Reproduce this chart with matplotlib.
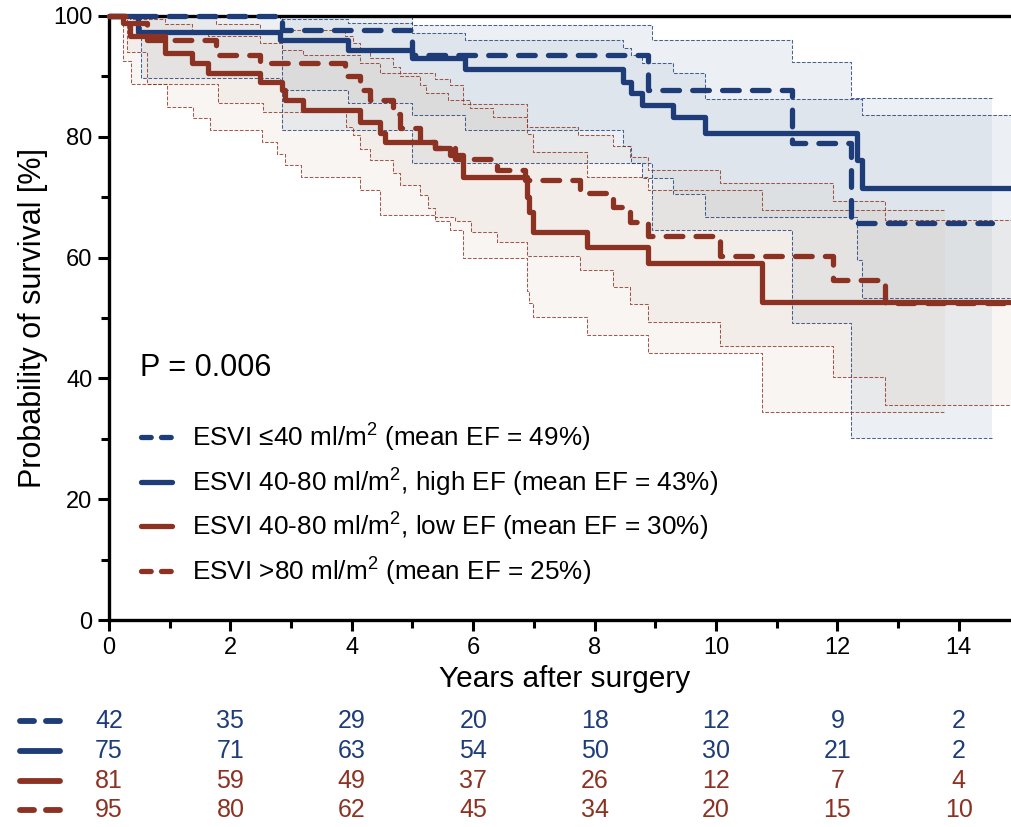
import numpy as np
import matplotlib
matplotlib.use('Agg')
import matplotlib.pyplot as plt

plt.rcParams['font.family'] = ['Liberation Sans', 'DejaVu Sans']
plt.rcParams['mathtext.fontset'] = 'custom'
plt.rcParams['mathtext.rm'] = 'Liberation Sans'

BLUE = '#1e3c78'
RED = '#8c3223'

labels = ['ESVI \u226440 ml/m$^2$ (mean EF = 49%)',
          'ESVI 40-80 ml/m$^2$, high EF (mean EF = 43%)',
          'ESVI 40-80 ml/m$^2$, low EF (mean EF = 30%)',
          'ESVI >80 ml/m$^2$ (mean EF = 25%)']

# Kaplan-Meier curves: step times (years) and survival (%), last entry = end of follow-up
t_le40 = [0, 2.85, 5.0, 8.88, 11.25, 12.22, 14.54]
s_le40 = [100, 97.6, 93.5, 87.7, 78.9, 65.7, 65.7]
t_high = [0, 0.48, 2.82, 3.94, 5.0, 5.86, 8.47, 8.6, 8.78, 9.29, 9.82, 12.32, 12.4, 14.86]
s_high = [100, 97.4, 96.1, 94.4, 93.0, 91.3, 89.1, 87.2, 85.3, 83.3, 80.6, 76.2, 71.5, 71.5]
t_low = [0, 0.23, 0.35, 0.92, 1.36, 1.63, 2.49, 2.85, 2.9, 3.2, 4.13, 4.46, 4.55, 5.37,
         5.62, 5.84, 6.88, 6.92, 6.99, 7.87, 8.88, 10.75, 14.86]
s_low = [100, 98.8, 96.6, 93.8, 92.2, 90.5, 89.1, 87.7, 86.1, 84.4, 82.5, 80.6, 79.2, 78.1,
         77.0, 73.4, 70.0, 67.5, 64.3, 61.8, 59.1, 52.7, 52.7]
t_gt80 = [0, 0.3, 0.62, 1.77, 2.49, 3.89, 4.13, 4.3, 4.68, 4.8, 5.12, 5.37, 5.7, 6.4,
          6.85, 7.76, 8.3, 8.58, 8.88, 10.07, 11.93, 12.78, 14.86]
s_gt80 = [100, 98.9, 96.0, 93.5, 92.2, 90.0, 87.7, 86.1, 83.8, 81.4, 79.2, 78.1, 76.4, 74.5,
          72.8, 70.7, 68.4, 65.9, 63.5, 60.2, 56.3, 52.4, 52.4]

# 95% confidence bands (upper / lower), same convention
cu_le40_t = [0, 5.0, 8.94, 11.25, 12.22, 14.54]
cu_le40 = [100, 98.5, 96.1, 92.4, 86.4, 86.4]
cl_le40_t = [0, 2.85, 5.0, 8.94, 11.25, 12.22, 14.54]
cl_le40 = [100, 81.1, 75.6, 64.6, 49.2, 30.1, 30.1]

cu_high_t = [0, 2.82, 3.94, 5.0, 5.86, 8.47, 8.6, 8.78, 9.29, 9.82, 12.4, 14.86]
cu_high = [100, 99.5, 98.8, 97.1, 96.1, 94.7, 93.5, 92.2, 90.6, 86.2, 83.6, 83.6]
cl_high_t = [0, 0.52, 2.82, 3.94, 5.0, 5.86, 8.47, 8.6, 8.78, 9.29, 9.82, 12.32, 12.4, 14.86]
cl_high = [100, 89.8, 87.7, 85.6, 83.6, 81.1, 78.4, 75.6, 73.1, 70.6, 66.8, 59.6, 53.3, 53.3]

cu_low_t = [0, 0.35, 0.92, 1.36, 1.63, 2.49, 2.85, 3.2, 4.13, 4.46, 5.37, 5.62, 5.84,
            6.88, 6.99, 7.87, 8.88, 10.75, 13.77]
cu_low = [100, 99.5, 98.6, 97.5, 96.6, 95.5, 94.4, 93.5, 92.2, 90.5, 89.5, 88.5, 85.5,
          80.5, 77.5, 73.4, 71.2, 67.9, 67.9]
cl_low_t = [0, 0.23, 0.37, 0.95, 1.39, 1.66, 2.52, 2.76, 2.9, 3.17, 4.13, 4.46, 5.37,
            5.62, 5.84, 6.88, 6.92, 6.99, 7.87, 8.88, 10.75, 13.77]
cl_low = [100, 92.5, 88.7, 85.0, 83.1, 81.1, 79.2, 77.2, 75.3, 73.4, 71.2, 67.0, 66.0,
          64.6, 59.9, 54.5, 52.4, 50.2, 47.2, 44.2, 34.4, 34.4]

cu_gt80_t = [0, 0.62, 1.77, 2.49, 3.89, 4.02, 4.13, 4.3, 4.68, 4.8, 5.12, 5.23, 5.59,
             5.95, 6.33, 6.88, 7.73, 8.3, 8.58, 8.88, 10.07, 11.93, 12.78, 14.86]
cu_gt80 = [100, 99.8, 98.6, 97.6, 96.6, 95.5, 94.4, 93.0, 91.5, 90.0, 88.6, 87.2, 86.1,
           84.7, 83.3, 81.7, 80.3, 78.4, 76.7, 74.5, 72.3, 69.3, 66.3, 66.3]
cl_gt80_t = [0, 0.3, 0.62, 1.8, 2.54, 3.9, 4.02, 4.13, 4.3, 4.68, 4.8, 5.12, 5.25, 5.37,
             5.7, 5.96, 6.4, 6.88, 7.76, 8.3, 8.58, 8.88, 10.07, 11.93, 12.78, 14.86]
cl_gt80 = [100, 94.0, 88.7, 85.6, 84.1, 81.6, 80.3, 78.0, 76.2, 74.0, 72.0, 70.4, 68.2,
           66.8, 66.0, 64.3, 62.5, 60.2, 57.9, 55.1, 52.3, 49.3, 45.3, 40.2, 35.6, 35.6]

# number at risk
risk_years = [0, 2, 4, 6, 8, 10, 12, 14]
risk_le40 = [42, 35, 29, 20, 18, 12, 9, 2]
risk_high = [75, 71, 63, 54, 50, 30, 21, 2]
risk_low = [81, 59, 49, 37, 26, 12, 7, 4]
risk_gt80 = [95, 80, 62, 45, 34, 20, 15, 10]


def stepval(t, v, grid):
    idx = np.searchsorted(t, grid, side='right') - 1
    return np.asarray(v)[idx]


def band(ax, ut, uv, lt, lv, col, fill, alpha):
    grid = np.array(sorted(set(ut) | set(lt)))
    up = stepval(ut, uv, grid)
    lo = stepval(lt, lv, grid)
    ax.fill_between(grid, lo, up, step='post', color=fill, alpha=alpha, lw=0, zorder=1)
    for t, v in ((ut, uv), (lt, lv)):
        ax.step(t, v, where='post', color=col, lw=0.75, dashes=(3.5, 1.6), alpha=0.8, zorder=1.5)


fig = plt.figure(figsize=(10.11, 8.27), dpi=100)
ax = fig.add_axes([0.1078, 0.2503, 0.8922, 0.7304])

band(ax, cu_le40_t, cu_le40, cl_le40_t, cl_le40, BLUE, '#b9c7d6', 0.26)
band(ax, cu_high_t, cu_high, cl_high_t, cl_high, BLUE, '#b9c7d6', 0.26)
band(ax, cu_low_t, cu_low, cl_low_t, cl_low, RED, '#d9c6b9', 0.16)
band(ax, cu_gt80_t, cu_gt80, cl_gt80_t, cl_gt80, RED, '#d9c6b9', 0.16)

lw = 3.8
curves = [(t_high, s_high, BLUE, None), (t_le40, s_le40, BLUE, (3.16, 2.5)),
          (t_low, s_low, RED, None), (t_gt80, s_gt80, RED, (3.16, 2.5))]
for t, s, c, d in curves:
    kw = dict(dashes=d, dash_capstyle='round') if d else dict(solid_capstyle='butt')
    ax.step(t, s, where='post', color=c, lw=lw, zorder=4, clip_on=False, **kw)

ax.set_xlim(0, 14.86)
ax.set_ylim(0, 100)
ax.set_xticks(range(0, 15, 2))
ax.set_xticks(range(0, 15), minor=True)
ax.set_yticks(range(0, 101, 20))
ax.set_yticks(range(0, 101, 10), minor=True)
for side in ['left', 'bottom', 'top']:
    ax.spines[side].set_linewidth(2.4)
    ax.spines[side].set_zorder(3)
ax.spines['right'].set_visible(False)
ax.tick_params(which='major', length=8, width=2.2, labelsize=17, pad=4)
ax.tick_params(which='minor', length=6, width=2.2)

ax.set_xlabel('Years after surgery', fontsize=21.5)
ax.set_ylabel('Probability of survival [%]', fontsize=22)
ax.xaxis.set_label_coords(0.5055, -0.075)
ax.yaxis.set_label_coords(-0.068, 0.5)

ax.text(0.0344, 0.417, 'P = 0.006', transform=ax.transAxes, fontsize=22, va='center')

# legend drawn by hand
leg_y = [0.303, 0.2285, 0.1556, 0.0811]
styles = [(BLUE, (1.84, 1.95)), (BLUE, None), (RED, None), (RED, (1.84, 1.95))]
for y, (c, d), lab in zip(leg_y, styles, labels):
    kw = dict(dashes=d, dash_capstyle='round') if d else dict(solid_capstyle='round')
    ax.plot([0.036, 0.070], [y, y], transform=ax.transAxes, color=c, lw=lw, **kw)
    ax.text(0.092, y, lab, transform=ax.transAxes, fontsize=18.8, va='center')

# number at risk table
tr = ax.get_xaxis_transform()
rows = [risk_le40, risk_high, risk_low, risk_gt80]
row_y = [-0.167, -0.217, -0.2666, -0.3146]
for vals, y, (c, d) in zip(rows, row_y, [(BLUE, (2.4, 2.05)), (BLUE, None), (RED, None), (RED, (2.4, 2.05))]):
    kw = dict(dashes=d, dash_capstyle='round') if d else dict(solid_capstyle='round')
    ax.plot([-1.47, -0.8], [y, y], transform=tr, color=c, lw=4.2, clip_on=False, **kw)
    for x, v in zip(risk_years, vals):
        ax.text(x, y, str(v), transform=tr, color=c, fontsize=18, ha='center', va='center',
                clip_on=False)

fig.savefig('out.png', dpi=100)
